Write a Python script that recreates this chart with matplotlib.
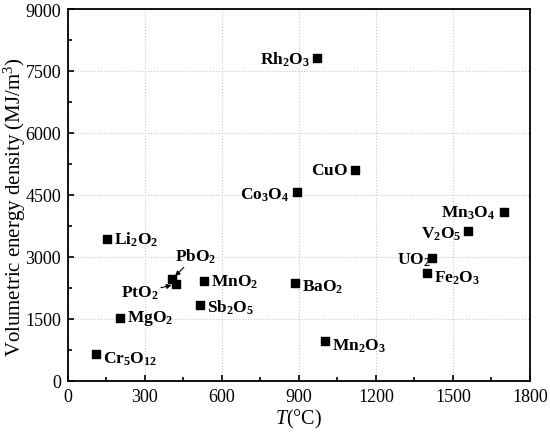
import matplotlib
matplotlib.use("Agg")
import matplotlib.pyplot as plt
from matplotlib.ticker import MultipleLocator

plt.rcParams["font.family"] = "Liberation Serif"
plt.rcParams["mathtext.fontset"] = "custom"
plt.rcParams["mathtext.rm"] = "Liberation Serif"
plt.rcParams["mathtext.it"] = "Liberation Serif:italic"
plt.rcParams["mathtext.bf"] = "Liberation Serif:bold"

# oxide, decomposition temperature (°C), volumetric energy density (MJ/m3)
oxides = ["Rh2O3", "CuO", "Co3O4", "Mn3O4", "V2O5", "UO2", "Fe2O3", "Li2O2",
          "PbO2", "PtO2", "MnO2", "BaO2", "Sb2O5", "MgO2", "Cr5O12", "Mn2O3"]
temperature = [969, 1118, 891, 1700, 1560, 1417, 1400, 151,
               406, 419, 530, 886, 514, 204, 109, 1000]
energy_density = [7806, 5109, 4576, 4077, 3632, 2963, 2608, 3431,
                  2462, 2334, 2414, 2358, 1826, 1526, 646, 961]

labels = {
    "Rh2O3": r"$\mathbf{Rh_2O_3}$", "CuO": r"$\mathbf{CuO}$",
    "Co3O4": r"$\mathbf{Co_3O_4}$", "Mn3O4": r"$\mathbf{Mn_3O_4}$",
    "V2O5": r"$\mathbf{V_2O_5}$", "UO2": r"$\mathbf{UO_2}$",
    "Fe2O3": r"$\mathbf{Fe_2O_3}$", "Li2O2": r"$\mathbf{Li_2O_2}$",
    "PbO2": r"$\mathbf{PbO_2}$", "PtO2": r"$\mathbf{PtO_2}$",
    "MnO2": r"$\mathbf{MnO_2}$", "BaO2": r"$\mathbf{BaO_2}$",
    "Sb2O5": r"$\mathbf{Sb_2O_5}$", "MgO2": r"$\mathbf{MgO_2}$",
    "Cr5O12": r"$\mathbf{Cr_5O_{12}}$", "Mn2O3": r"$\mathbf{Mn_2O_3}$",
}

# label placement (offset in points, horizontal alignment)
placement = {
    "Rh2O3": ((-5, 0), "right"), "CuO": ((-5, 0), "right"),
    "Co3O4": ((-5, -2), "right"), "Mn3O4": ((-7, 0), "right"),
    "V2O5": ((-5, -2), "right"), "UO2": ((-1, -1), "right"),
    "Fe2O3": ((5, -3), "left"), "Li2O2": ((5, 0), "left"),
    "MnO2": ((5, 0), "left"), "BaO2": ((5, -2), "left"),
    "Sb2O5": ((5, -1), "left"), "MgO2": ((5, 0), "left"),
    "Cr5O12": ((5, -3), "left"), "Mn2O3": ((5, -3), "left"),
}
arrowed = {"PbO2": (17, 17), "PtO2": (-26, -6)}

fig = plt.figure(figsize=(5.5, 4.35), dpi=100)
ax = fig.add_axes([0.1236, 0.1225, 0.84, 0.8545])

ax.scatter(temperature, energy_density, marker="s", s=30, color="black", zorder=3)

for name, x, y in zip(oxides, temperature, energy_density):
    if name in arrowed:
        ax.annotate(labels[name], xy=(x, y), xytext=arrowed[name],
                    textcoords="offset points", ha="center", va="center",
                    fontsize=12.5,
                    arrowprops=dict(arrowstyle="-|>", color="black", lw=0.8,
                                    mutation_scale=7, shrinkA=0, shrinkB=3))
    else:
        offset, ha = placement[name]
        ax.annotate(labels[name], xy=(x, y), xytext=offset,
                    textcoords="offset points", ha=ha, va="center",
                    fontsize=12.5)

ax.set_xlim(0, 1800)
ax.set_ylim(0, 9000)
ax.xaxis.set_major_locator(MultipleLocator(300))
ax.xaxis.set_minor_locator(MultipleLocator(150))
ax.yaxis.set_major_locator(MultipleLocator(1500))
ax.yaxis.set_minor_locator(MultipleLocator(750))
ax.tick_params(which="both", direction="in", top=False, right=False,
               labelsize=13, width=1.2)
ax.tick_params(which="major", length=4.5, pad=5)
ax.tick_params(which="minor", length=3)
for spine in ax.spines.values():
    spine.set_linewidth(1.3)
ax.grid(True, which="major", linestyle=":", color="#c8c8c8", linewidth=0.8)
ax.set_axisbelow(True)

ax.set_xlabel(r"$\mathit{T}$(°C)", fontsize=14.5, labelpad=2)
ax.set_ylabel(r"Volumetric energy density (MJ/m$^3$)", fontsize=15, va="center")
ax.yaxis.set_label_coords(-0.115, 0.47)

fig.savefig("out.png", dpi=100)
